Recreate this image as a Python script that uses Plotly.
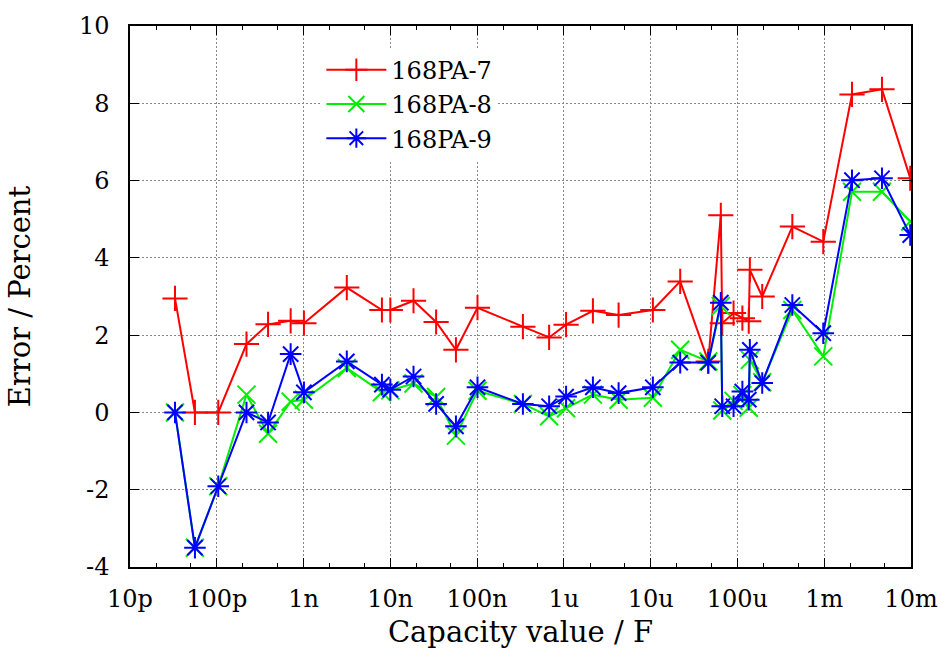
import plotly.graph_objects as go

## data
capacity = [33e-12, 56e-12, 104e-12, 220e-12, 390e-12, 710e-12, 1.01e-9, 3.15e-9,
            8.0e-9, 10e-9, 18.5e-9, 33.7e-9, 57e-9, 101e-9, 337e-9, 676e-9,
            1.06e-6, 2.16e-6, 4.27e-6, 10.6e-6, 21.9e-6, 46.1e-6, 64.3e-6, 66.8e-6,
            90.2e-6, 114e-6, 135e-6, 139e-6, 193e-6, 429e-6, 975e-6, 2.09e-3,
            4.63e-3, 9.8e-3]

err_pa7 = [2.95, 0.0, 0.0, 1.77, 2.28, 2.37, 2.31, 3.23,
           2.65, 2.65, 2.89, 2.34, 1.62, 2.71, 2.22, 1.94,
           2.27, 2.63, 2.52, 2.65, 3.39, 1.32, 5.10, 2.31,
           2.57, 2.44, 2.36, 3.69, 3.00, 4.81, 4.42, 8.23,
           8.36, 6.06]

err_pa8 = [0.0, -3.50, -1.91, 0.46, -0.55, 0.28, 0.33, 1.15,
           0.52, 0.57, 0.75, 0.40, -0.60, 0.56, 0.22, -0.10,
           0.11, 0.46, 0.33, 0.38, 1.62, 1.32, 2.75, 0.05,
           0.30, 0.45, 0.12, 1.36, 0.78, 2.65, 1.45, 5.71,
           5.71, 4.94]

err_pa9 = [0.0, -3.50, -1.91, 0.0, -0.26, 1.51, 0.52, 1.32,
           0.72, 0.59, 0.93, 0.22, -0.36, 0.65, 0.22, 0.16,
           0.41, 0.65, 0.50, 0.65, 1.29, 1.29, 2.84, 0.16,
           0.16, 0.54, 0.33, 1.62, 0.76, 2.78, 2.05, 6.01,
           6.06, 4.59]

x_tickvals = [1e-11, 1e-10, 1e-9, 1e-8, 1e-7, 1e-6, 1e-5, 1e-4, 1e-3, 1e-2]
x_ticktext = ['10p', '100p', '1n', '10n', '100n', '1u', '10u', '100u', '1m', '10m']
y_tickvals = [-4, -2, 0, 2, 4, 6, 8, 10]
y_ticktext = ['-4', '-2', '0', '2', '4', '6', '8', '10']

FONT = 'DejaVu Serif'

series = [('168PA-7', err_pa7, '#ff0000', 'cross-thin'),
          ('168PA-8', err_pa8, '#00ee00', 'x-thin'),
          ('168PA-9', err_pa9, '#0000ff', 'asterisk')]

fig = go.Figure()
for name, vals, col, sym in series:
    fig.add_trace(go.Scatter(name=name, x=capacity, y=vals,
                             mode='lines+markers',
                             line=dict(color=col, width=2),
                             marker=dict(symbol=sym, size=18,
                                         line=dict(color=col, width=2)),
                            ))

## minor ticks at 2 and 5 in every decade
minor_vals = [m * 10.0**e for e in range(-11, -2) for m in (2, 5)]

common = dict(ticks='inside',
              ticklen=9,
              tickwidth=1,
              tickcolor='#000000',
              showline=True,
              linecolor='#000000',
              linewidth=1.5,
              mirror='allticks',
              showgrid=True,
              gridcolor='#888888',
              gridwidth=1,
              griddash='2px,2px',
              zeroline=False,
              tickmode='array',
              automargin=False,
             )

fig.update_xaxes(type='log',
                 range=[-11, -2],
                 tickvals=x_tickvals,
                 ticktext=x_ticktext,
                 ticklabelstandoff=9,
                 minor=dict(tickmode='array', tickvals=minor_vals,
                            ticks='inside', ticklen=4.5, tickcolor='#000000',
                            showgrid=False),
                 title=dict(text='Capacity value / F', standoff=10),
                 **common)

fig.update_yaxes(range=[-4, 10],
                 tickvals=y_tickvals,
                 ticktext=y_ticktext,
                 ticklabelstandoff=14,
                 title=dict(text='Error / Percent', standoff=40),
                 **common)

fig.update_layout(width=940, height=656,
                  margin=dict(l=130, r=29, t=26, b=89),
                  font=dict(family=FONT, size=24, color='#000000'),
                  plot_bgcolor='#ffffff',
                  paper_bgcolor='#ffffff',
                  showlegend=True,
                  legend=dict(x=0.245, y=0.96, xanchor='left', yanchor='top',
                              bgcolor='#ffffff', borderwidth=0,
                              tracegroupgap=0, itemwidth=60),
                 )

## drop the default page margin so the figure sits at the window origin
fig.write_html('out.html', config={'displayModeBar': False},
               post_script="document.body.style.margin='0px';")
